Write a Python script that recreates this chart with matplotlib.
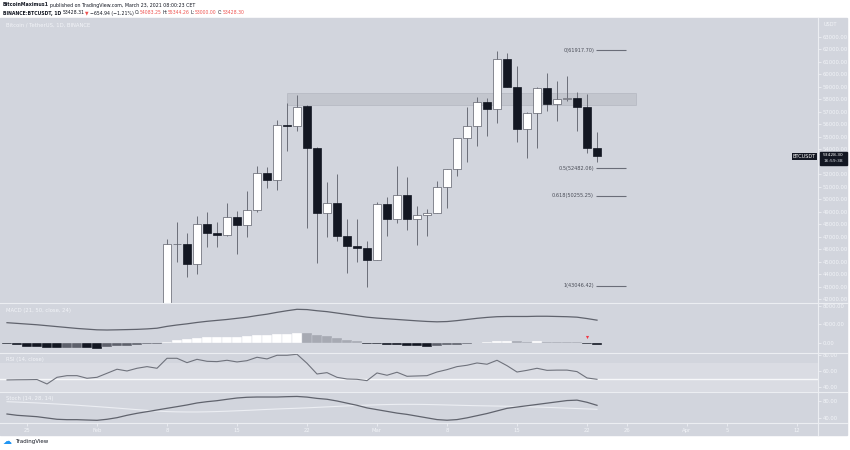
import matplotlib
matplotlib.use("Agg")
import matplotlib.pyplot as plt
import matplotlib.dates as mdates
import pandas as pd
from matplotlib.patches import Rectangle
from matplotlib.lines import Line2D

W, H = 850, 450

# ---- indicator data, one value per day from Jan 23 to Mar 23, 2021 ----
ind_start = "2021-01-23"
macd_line = [4350, 4200, 4050, 3900, 3700, 3500, 3300, 3100, 2950, 2800, 2760, 2800, 2850, 2900, 3000, 3150,
             3550, 3850, 4100, 4400, 4650, 4850, 5050, 5300, 5550, 5900, 6200, 6600, 6950, 7260,
             7200, 6950, 6750, 6450, 6150, 5850, 5550, 5350, 5200, 5050, 4900, 4750, 4620, 4540, 4600,
             4800, 5050, 5300, 5500, 5650, 5700, 5700, 5700, 5750, 5750, 5700, 5650, 5550, 5250, 4900]
macd_hist = [-360, -580, -870, -1000, -1230, -1260, -1090, -1070, -1230, -1300, -1010, -720, -650, -500, -350, -200,
             100, 580, 800, 1090, 1230, 1240, 1300, 1310, 1450, 1590, 1600, 1880, 1950, 2200,
             2100, 1740, 1450, 1010, 580, 290, -290, -360, -430, -500, -650, -800, -870, -720, -580,
             -430, -290, -140, 80, 350, 430, 300, 250, 350, 250, 200, 150, 50, -200, -450]
rsi = [48.5, 48.7, 48.8, 49.0, 43.4, 51.8, 53.9, 53.9, 50.6, 51.8, 56.9, 62.0, 59.8, 63.2, 65.3, 63.2,
       75.8, 75.8, 70.3, 74.5, 72.0, 71.6, 73.3, 71.2, 72.8, 77.1, 75.0, 79.6, 79.6, 80.9,
       69.5, 56.0, 57.7, 51.8, 49.7, 49.3, 47.6, 57.3, 54.4, 58.2, 53.1, 53.5, 53.9, 58.5, 61.5,
       65.3, 67.0, 69.9, 68.3, 73.3, 66.5, 58.5, 60.6, 63.2, 60.6, 60.9, 60.9, 59.0, 51.0, 49.3]
stoch_k = [49.9, 46.9, 45.3, 43.7, 40.7, 37.7, 36.8, 36.8, 36.0, 35.3, 37.7, 41.4, 46.9, 51.5, 55.3, 59.2,
           63.1, 66.9, 70.8, 75.4, 78.4, 80.7, 83.9, 86.9, 88.6, 89.2, 89.2, 89.2, 90.0, 90.5,
           89, 86, 84, 80, 75, 70, 64, 60, 56, 52, 49, 45, 41, 37, 35.5,
           37, 41, 46, 51, 57, 63, 66, 69, 72, 75, 78, 81, 82, 77, 70]
stoch_d = [78.4, 77.5, 76.5, 75.5, 74.2, 73.0, 71.6, 70.2, 68.6, 67.0, 65.3, 63.6, 61.8, 60.0, 58.3, 56.8,
           55.5, 54.9, 54.6, 54.6, 55.0, 55.6, 56.4, 57.3, 58.3, 59.4, 60.5, 61.5, 62.4, 63.2,
           64.2, 65.3, 66.4, 67.5, 68.6, 69.6, 70.5, 71.2, 71.8, 72.2, 72.3, 72.2, 71.9, 71.4, 70.8,
           70.2, 69.6, 69.1, 68.7, 68.3, 67.9, 67.4, 66.8, 66.1, 65.3, 64.4, 63.5, 62.6, 61.7, 60.8]

# ---- daily candles, Feb 8 to Mar 23, 2021 ----
candle_start = "2021-02-08"
opens = [38795, 46374, 46420, 44807, 47969, 47298, 47156, 48580, 47911, 49134, 52119, 51552, 55906, 55841,
         57412, 54087, 48891, 49676, 47073, 46277, 46103,
         45134, 49595, 48436, 50349, 48374, 48746, 48882, 50959, 52376, 54875, 55851, 57774, 57222, 61188,
         58976, 55606, 56900, 58913, 57641, 58031, 58101, 57351, 54083.25]
highs = [46794, 48200, 47310, 48678, 48985, 48150, 49707, 49010, 50641, 52618, 52530, 56368, 57700, 58352,
         57508, 54183, 51374, 52040, 48425, 48394, 46638,
         49790, 50200, 52640, 51773, 49448, 49200, 51450, 52402, 54895, 57387, 58150, 58058, 61844, 61683,
         60633, 56938, 58982, 60100, 59468, 59880, 58593, 58430, 55344.26]
lows = [37988, 45000, 43727, 43994, 46200, 46202, 47014, 45600, 47002, 48947, 50901, 50710, 53863, 55477,
        47650, 44892, 47003, 46674, 44107, 45000, 43000,
        45115, 47047, 48100, 47500, 46300, 47070, 48882, 49274, 51845, 53005, 54272, 55013, 56078, 58963,
        54600, 53271, 54123, 57023, 56270, 57820, 55450, 53650, 53000]
closes = [46375, 46420, 44807, 47970, 47287, 47153, 48577, 47911, 49133, 52119, 51553, 55906, 55841, 57408,
          54087, 48891, 49676, 47073, 46276, 46106, 45135,
          49587, 48440, 50349, 48374, 48751, 48882, 50971, 52375, 54884, 55851, 57773, 57221, 61188, 58968,
          55605, 56900, 58912, 57648, 58030, 58102, 57351, 54083, 53428.30]

# fibonacci retracement and resistance zone
fib_labels = ["0", "0.5", "0.618", "1"]
fib_prices = [61917.70, 52482.06, 50255.25, 43046.42]
zone_low, zone_high = 57508, 58468
zone_from, zone_to = "2021-02-20", "2021-03-26 22:00"

# price axis labels (53000 sits under the last-price box)
price_ticks = [p for p in range(42000, 64000, 1000) if p != 53000]

tick_dates = ["2021-01-25", "2021-02-01", "2021-02-08", "2021-02-15", "2021-02-22", "2021-03-01", "2021-03-08",
              "2021-03-15", "2021-03-22", "2021-03-26", "2021-04-01", "2021-04-05", "2021-04-12"]
tick_labels = ["25", "Feb", "8", "15", "22", "Mar", "8", "15", "22", "26", "Apr", "5", "12"]

BG = "#d2d5dd"
TXT = "#f2f4f8"
DARK = "#131722"
RED = "#ef5350"
GREY = "#60636d"

plt.rcParams["font.family"] = ["DejaVu Sans"]
fig = plt.figure(figsize=(W / 100, H / 100), dpi=100)
fig.patch.set_facecolor("white")


def box(x0, y0, x1, y1):
    return [x0 / W, 1 - y1 / H, (x1 - x0) / W, (y1 - y0) / H]


def ftext(x, y, s, **kw):
    return fig.text(x / W, 1 - y / H, s, **kw)


fig.patches.append(Rectangle((0, 1 - 435 / H), 847 / W, (435 - 18) / H,
                             transform=fig.transFigure, color=BG, zorder=-10))

ax_p = fig.add_axes(box(0, 18, 818, 303.3))
ax_m = fig.add_axes(box(0, 303.3, 818, 353.3), sharex=ax_p)
ax_r = fig.add_axes(box(0, 353.3, 818, 392.3), sharex=ax_p)
ax_s = fig.add_axes(box(0, 392.3, 818, 423.3), sharex=ax_p)

ind_x = mdates.date2num(pd.date_range(ind_start, periods=len(rsi)))
cx = mdates.date2num(pd.date_range(candle_start, periods=len(closes)))
base = mdates.date2num(pd.Timestamp(candle_start))

for ax in (ax_p, ax_m, ax_r, ax_s):
    ax.set_facecolor("none")
    for sp in ax.spines.values():
        sp.set_visible(False)
    ax.yaxis.tick_right()
    ax.tick_params(axis="y", length=2, width=0.5, color=TXT, labelsize=3.8,
                   labelcolor=TXT, pad=1.5)
    ax.tick_params(axis="x", bottom=False, labelbottom=False)
ax_p.set_xlim(base - 16.7, base + 65.1)

# ---- price pane ----
ax_p.set_ylim(41656, 64497)
ax_p.set_yticks(price_ticks)
ax_p.yaxis.set_major_formatter(lambda v, p: f"{v:.2f}")

zx0 = mdates.date2num(pd.Timestamp(zone_from))
zx1 = mdates.date2num(pd.Timestamp(zone_to))
ax_p.add_patch(Rectangle((zx0, zone_low), zx1 - zx0, zone_high - zone_low,
                         fc="#b9bcc5", ec="#a6a9b2", lw=0.5, alpha=0.6, zorder=1))

up = [c >= o for o, c in zip(opens, closes)]
bottoms = [min(o, c) for o, c in zip(opens, closes)]
heights = [max(abs(c - o), 45) for o, c in zip(opens, closes)]
ax_p.vlines(cx, lows, highs, color="#6b6e78", lw=0.7, zorder=2)
ax_p.bar(cx, heights, 0.72, bottom=bottoms,
         color=["white" if u else DARK for u in up],
         edgecolor=["#5d606b" if u else DARK for u in up], lw=0.5, zorder=3)

fx0 = cx[-1] - 0.1
for lab, pr in zip(fib_labels, fib_prices):
    ax_p.hlines(pr, fx0, fx0 + 3.0, color="#6a6d78", lw=0.8)
    ax_p.text(fx0 - 0.2, pr, f"{lab}({pr:.2f})", ha="right", va="center",
              fontsize=3.6, color="#4a4d57")

# last price labels
ypix = ax_p.transData.transform((cx[-1], closes[-1]))[1]
ypix_top = H - ypix
ftext(816, ypix_top + 0.3, "BTCUSDT", ha="right", va="center", fontsize=3.6, color="white",
      bbox=dict(fc=DARK, ec="none", boxstyle="square,pad=0.25"))
fig.patches.append(Rectangle((819.5 / W, 1 - (ypix_top + 9) / H), 27 / W, 13.5 / H,
                             transform=fig.transFigure, color=DARK, zorder=3))
ftext(833, ypix_top - 1.2, f"{closes[-1]:.2f}", ha="center", va="center", fontsize=3.2,
      color="white", zorder=4)
ftext(833, ypix_top + 5.2, "16:59:38", ha="center", va="center", fontsize=3.2,
      color="#d8dbe2", zorder=4)

# ---- MACD pane ----
hist_colors = []
for i, v in enumerate(macd_hist):
    prev = macd_hist[i - 1] if i else 0
    if v >= 0:
        hist_colors.append("white" if v >= prev else "#a7aab3")
    else:
        hist_colors.append(DARK if v < prev else "#5d606b")
ax_m.bar(ind_x, macd_hist, 1.0, color=hist_colors, edgecolor=BG, lw=0.25)
ax_m.plot(ind_x, macd_line, color=GREY, lw=0.9)
ax_m.scatter([mdates.date2num(pd.Timestamp("2021-03-22"))], [1150], marker="v",
             color="#f23645", s=5, zorder=5, linewidths=0)
ax_m.set_ylim(-2304, 8566)
ax_m.set_yticks([0, 4000, 8000])
ax_m.yaxis.set_major_formatter(lambda v, p: f"{v:.2f}")

# ---- RSI pane ----
ax_r.axhspan(30, 70, color="#dadce3", lw=0, zorder=0)
ax_r.axhline(50, color="#f7f8fa", lw=1.0, zorder=1)
ax_r.plot(ind_x, rsi, color="#6f727c", lw=0.8, zorder=2)
ax_r.set_ylim(32.9, 82.1)
ax_r.set_yticks([40, 60, 80])
ax_r.yaxis.set_major_formatter(lambda v, p: f"{v:.2f}")

# ---- Stoch pane ----
ax_s.plot(ind_x, stoch_d, color="#eceef3", lw=0.8)
ax_s.plot(ind_x, stoch_k, color=GREY, lw=0.9)
ax_s.set_ylim(28.4, 100.1)
ax_s.set_yticks([40, 80])
ax_s.yaxis.set_major_formatter(lambda v, p: f"{v:.2f}")
ax_s.set_xticks(mdates.date2num(pd.to_datetime(tick_dates)))
ax_s.set_xticklabels(tick_labels)
ax_s.tick_params(axis="x", bottom=True, labelbottom=True, length=2, width=0.5, color=TXT,
                 labelsize=3.8, labelcolor=TXT, pad=1.5)

# pane separators and price axis line
for yy in (303.3, 353.3, 392.3, 423.3):
    fig.add_artist(Line2D([0, 847 / W], [1 - yy / H] * 2, color="#eceef2", lw=0.8))
fig.add_artist(Line2D([818 / W] * 2, [1 - 18 / H, 1 - 435 / H], color="#eceef2", lw=0.8))

# pane titles
ftext(6, 25, "Bitcoin / TetherUS, 1D, BINANCE", fontsize=3.8, color=TXT, va="center")
ftext(6, 310.5, "MACD (21, 50, close, 24)", fontsize=3.8, color=TXT, va="center")
ftext(6, 360, "RSI (14, close)", fontsize=3.8, color=TXT, va="center")
ftext(6, 398.5, "Stoch (14, 28, 14)", fontsize=3.8, color=TXT, va="center")
ftext(824, 25, "USDT", fontsize=3.6, color=TXT, va="center")

# header lines
renderer = fig.canvas.get_renderer()


def run_text(x, y, parts, size=3.4):
    for s, col, bold, gap in parts:
        t = ftext(x, y, s, fontsize=size, color=col, va="center",
                  fontweight="bold" if bold else "normal")
        x = t.get_window_extent(renderer).x1 + gap


run_text(3, 5, [("BitcoinMaximus1", DARK, True, 1.0),
                ("published on TradingView.com, March 23, 2021 08:00:23 CET", DARK, False, 0)])
run_text(3, 13, [("BINANCE:BTCUSDT, 1D", DARK, True, 1.2), ("53428.31", DARK, False, 0.8),
                 ("▼", RED, False, 0.8), ("−654.94 (−1.21%)", DARK, False, 1.2),
                 ("O:", DARK, False, 0.0), ("54083.25", RED, False, 1.2),
                 ("H:", DARK, False, 0.0), ("55344.26", RED, False, 1.2),
                 ("L:", DARK, False, 0.0), ("53000.00", RED, False, 1.2),
                 ("C:", DARK, False, 0.0), ("53428.30", RED, False, 0)], size=3.35)

# footer logo
ftext(3, 442, "☁", fontsize=6.5, color="#2196f3", va="center")
ftext(15, 442, "TradingView", fontsize=4.0, color=DARK, va="center")

fig.savefig("out.png", dpi=100)
